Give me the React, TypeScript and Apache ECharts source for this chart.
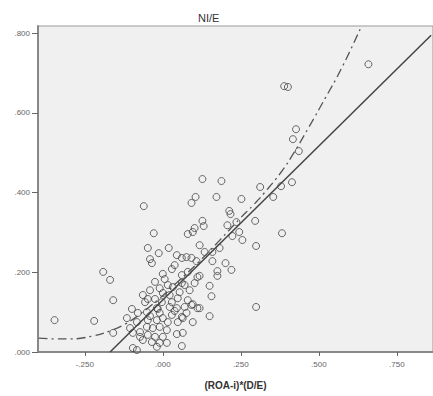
import React, { useEffect, useRef } from "react";
import * as echarts from "echarts";

const xTicks = [-0.25, 0, 0.25, 0.5, 0.75];
const yTicks = [0, 0.2, 0.4, 0.6, 0.8];

const pointX = [
  0.659, 0.389, 0.401, 0.427, 0.417, 0.436, 0.312, 0.379, 0.414, 0.354,
  0.252, 0.382, 0.299, 0.15, 0.299, 0.296, 0.22, 0.127, 0.188, 0.105,
  0.092, 0.172, -0.061, 0.213, 0.217, 0.127, 0.131, 0.102, 0.096, 0.08,
  0.207, 0.236, 0.245, 0.223, -0.029, 0.118, 0.134, 0.159, 0.182, -0.048,
  -0.013, 0.019, -0.041, -0.035, 0.045, 0.076, 0.108, 0.061, 0.159, 0.175,
  0.175, 0.118, 0.15, 0.156, 0.096, 0.111, 0.076, 0.064, 0.061, 0.064,
  0.029, 0.006, -0.025, -0.191, -0.169, -0.159, -0.099, -0.115, -0.159, -0.025,
  -0.048, -0.016, -0.041, 0.038, -0.347, -0.22, -0.096, 0.045, 0.0, 0.061,
  0.08, 0.111, 0.061, 0.032, 0.054, 0.022, 0.0, -0.003, 0.022, 0.045,
  0.07, 0.092, 0.118, -0.019, -0.051, -0.08, -0.048, -0.019, 0.0, 0.016,
  0.061, -0.051, -0.032, -0.01, 0.013, -0.073, -0.048, -0.025, 0.0, -0.064,
  -0.035, -0.01, 0.013, -0.083, -0.019, -0.073, -0.096, -0.105, -0.083, 0.038,
  0.07, 0.086, 0.102, 0.016, 0.048, 0.08, 0.029, -0.01, 0.029, 0.048,
  0.096, -0.01, -0.041, -0.064, -0.057, 0.092, 0.201, 0.255
];
const pointY = [
  0.722, 0.667, 0.665, 0.559, 0.534, 0.504, 0.414, 0.416, 0.426, 0.389,
  0.384, 0.298, 0.113, 0.09, 0.266, 0.329, 0.206, 0.434, 0.429, 0.389,
  0.374, 0.389, 0.366, 0.354, 0.346, 0.329, 0.316, 0.311, 0.301, 0.296,
  0.318, 0.326, 0.301, 0.291, 0.298, 0.268, 0.251, 0.251, 0.261, 0.261,
  0.248, 0.261, 0.233, 0.223, 0.243, 0.238, 0.228, 0.236, 0.228, 0.203,
  0.191, 0.191, 0.166, 0.14, 0.12, 0.11, 0.098, 0.085, 0.015, 0.048,
  0.208, 0.183, 0.176, 0.201, 0.181, 0.13, 0.108, 0.085, 0.048, 0.133,
  0.133, 0.108, 0.09, 0.103, 0.08, 0.078, 0.01, 0.045, 0.196, 0.193,
  0.201, 0.188, 0.173, 0.163, 0.15, 0.143, 0.148, 0.125, 0.113, 0.11,
  0.113, 0.118, 0.11, 0.11, 0.1, 0.098, 0.08, 0.08, 0.085, 0.075,
  0.088, 0.063, 0.06, 0.063, 0.055, 0.05, 0.043, 0.038, 0.038, 0.03,
  0.025, 0.023, 0.023, 0.005, 0.013, 0.038, 0.048, 0.06, 0.075, 0.218,
  0.168, 0.155, 0.173, 0.168, 0.135, 0.13, 0.125, 0.098, 0.093, 0.075,
  0.075, 0.16, 0.155, 0.143, 0.125, 0.236, 0.223, 0.281
];

const fitLineX = [-0.169, 0.86];
const fitLineY = [0, 0.795];

const curveX = [
  -0.398, -0.344, -0.296, -0.226, -0.169, -0.121, -0.073, -0.01, 0.054, 0.118,
  0.182, 0.245, 0.293, 0.325, 0.379, 0.414, 0.468, 0.522, 0.573, 0.637
];
const curveY = [
  0.035, 0.033, 0.033, 0.04, 0.053, 0.07, 0.095, 0.135, 0.181, 0.228,
  0.28, 0.333, 0.371, 0.399, 0.451, 0.492, 0.564, 0.639, 0.712, 0.818
];

const fmt = (v: number) => {
  const s = Math.abs(v).toFixed(3).replace(/^0/, "");
  return (v < 0 ? "-" : "") + s;
};

export default function App() {
  const ref = useRef<HTMLDivElement>(null);
  useEffect(() => {
    if (!ref.current) return;
    const chart = echarts.init(ref.current, null, { renderer: "svg" });
    const font = "Liberation Sans";
    chart.setOption({
      animation: false,
      backgroundColor: "#ffffff",
      textStyle: { fontFamily: font },
      title: {
        text: "NI/E",
        left: 193,
        top: 7,
        textStyle: { fontSize: 11, fontWeight: "normal", color: "#333", fontFamily: font },
      },
      grid: {
        left: 38,
        right: -2,
        top: 26,
        bottom: 44,
        show: true,
        backgroundColor: "#f0f0f0",
        borderColor: "#999",
        borderWidth: 1,
      },
      xAxis: {
        type: "value",
        min: -0.4,
        max: 0.866,
        splitLine: { show: false },
        axisLine: { show: true, onZero: false, lineStyle: { color: "#888", width: 2 } },
        axisTick: { show: true, customValues: xTicks, length: 4, lineStyle: { color: "#666" } },
        axisLabel: { customValues: xTicks, formatter: fmt, color: "#666", fontSize: 8, margin: 8 },
        name: "(ROA-i)*(D/E)",
        nameLocation: "middle",
        nameGap: 28,
        nameTextStyle: { fontWeight: "bold", fontSize: 10, color: "#333", fontFamily: font },
      },
      yAxis: {
        type: "value",
        min: 0,
        max: 0.818,
        splitLine: { show: false },
        axisLine: { show: true, onZero: false, lineStyle: { color: "#888", width: 2 } },
        axisTick: { show: true, customValues: yTicks, length: 6, lineStyle: { color: "#666" } },
        axisLabel: { customValues: yTicks, formatter: fmt, color: "#666", fontSize: 8, margin: 8 },
      },
      series: [
        {
          type: "scatter",
          data: pointX.map((x, i) => [x, pointY[i]]),
          symbol: "circle",
          symbolSize: 7,
          itemStyle: { color: "rgba(0,0,0,0)", borderColor: "#444", borderWidth: 1 },
          z: 3,
        },
        {
          type: "line",
          data: fitLineX.map((x, i) => [x, fitLineY[i]]),
          symbol: "none",
          lineStyle: { color: "#444", width: 1.5 },
          z: 4,
        },
        {
          type: "line",
          data: curveX.map((x, i) => [x, curveY[i]]),
          smooth: true,
          symbol: "none",
          lineStyle: { color: "#555", width: 1.3, type: [9, 4, 2, 4] },
          z: 4,
        },
      ],
    });
    return () => chart.dispose();
  }, []);
  return (
    <div
      ref={ref}
      style={{ position: "fixed", left: 0, top: 0, width: 433, height: 396 }}
    />
  );
}
